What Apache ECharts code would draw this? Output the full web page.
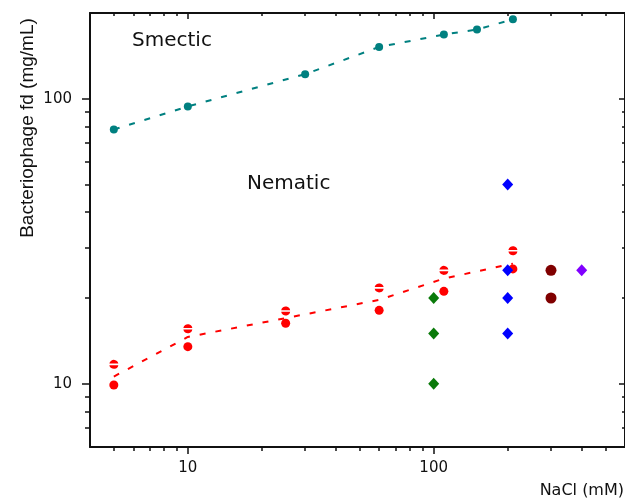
<!DOCTYPE html>
<html>
<head>
<meta charset="utf-8">
<script src="https://cdn.jsdelivr.net/npm/echarts@6/dist/echarts.min.js"></script>
<style>
  html, body { margin: 0; padding: 0; background: #fff; }
  #chart { width: 625px; height: 499px; }
</style>
</head>
<body>
<div id="chart"></div>
<script>
// NaCl concentration (mM) and fd virus concentrations (mg/mL)
var smecticNaCl = [5, 10, 30, 60, 110, 150, 210];
var smecticFd = [78, 94, 122, 152, 168, 175, 190];

var nematicNaCl = [5, 10, 25, 60, 110, 210];
var nematicUpperFd = [11.7, 15.6, 18.0, 21.7, 25.0, 29.3];
var nematicLowerFd = [9.9, 13.5, 16.3, 18.1, 21.1, 25.3];
var nematicTrendFd = [10.6, 14.6, 17.0, 19.7, 23.4, 26.4];

var greenNaCl = [100, 100, 100];
var greenFd = [20, 15, 10];
var blueNaCl = [200, 200, 200, 200];
var blueFd = [50, 25, 20, 15];
var maroonNaCl = [300, 300];
var maroonFd = [25, 20];
var purpleNaCl = [400];
var purpleFd = [25];

// axis ticks
var xMajorTicks = [10, 100];
var xMinorTicks = [5, 6, 7, 8, 9, 20, 30, 40, 50, 60, 70, 80, 90, 200, 300, 400, 500];
var yMajorTicks = [10, 100];
var yMinorTicks = [7, 8, 9, 20, 30, 40, 50, 60, 70, 80, 90];

var X_MIN = 4, X_MAX = 600, Y_MIN = 6, Y_MAX = 200;

function pairs(xs, ys) {
  return xs.map(function (x, i) { return [x, ys[i]]; });
}

var splitCircle = 'path://M0.06,3.3 A4,4 0 0 1 7.94,3.3 Z M0.06,4.7 A4,4 0 0 0 7.94,4.7 Z';
var AXIS_COLOR = '#111';
var labelFont = { fontFamily: 'DejaVu Sans', fontSize: 15, color: '#111' };

function xAx(opts) {
  var base = {
    type: 'log', logBase: 10, min: X_MIN, max: X_MAX, gridIndex: 0,
    splitLine: { show: false },
    axisLine: { show: false, lineStyle: { color: AXIS_COLOR, width: 2 } },
    axisLabel: { show: false },
    axisTick: { show: true, lineStyle: { color: AXIS_COLOR, width: 1.5 } }
  };
  return echarts.util.merge(base, opts, true);
}
function yAx(opts) {
  var base = {
    type: 'log', logBase: 10, min: Y_MIN, max: Y_MAX, gridIndex: 0,
    splitLine: { show: false },
    axisLine: { show: false, lineStyle: { color: AXIS_COLOR, width: 2 } },
    axisLabel: { show: false },
    axisTick: { show: true, lineStyle: { color: AXIS_COLOR, width: 1.5 } }
  };
  return echarts.util.merge(base, opts, true);
}

function scatter(name, xs, ys, symbol, size, color) {
  return {
    name: name, type: 'scatter', data: pairs(xs, ys),
    symbol: symbol, symbolSize: size, z: 4,
    itemStyle: { color: color, opacity: 1 }
  };
}

var chart = echarts.init(document.getElementById('chart'), null, { renderer: 'canvas' });

chart.setOption({
  animation: false,
  backgroundColor: '#fff',
  grid: { left: 90, top: 13, right: -1, bottom: 52, containLabel: false },
  xAxis: [
    xAx({ position: 'bottom', axisLine: { show: true },
          axisTick: { length: 7, inside: false, customValues: xMajorTicks },
          axisLabel: Object.assign({ show: true, margin: 14, customValues: xMajorTicks }, labelFont) }),
    xAx({ position: 'bottom', axisTick: { length: 4, inside: false, customValues: xMinorTicks } }),
    xAx({ position: 'top', axisLine: { show: true },
          axisTick: { length: 6, inside: true, customValues: xMajorTicks } }),
    xAx({ position: 'top', axisTick: { length: 3, inside: true, customValues: xMinorTicks } })
  ],
  yAxis: [
    yAx({ position: 'left', axisLine: { show: true },
          axisTick: { length: 8, inside: false, customValues: yMajorTicks },
          axisLabel: Object.assign({ show: true, margin: 18, customValues: yMajorTicks }, labelFont) }),
    yAx({ position: 'left', axisTick: { length: 5, inside: false, customValues: yMinorTicks } }),
    yAx({ position: 'right', axisLine: { show: true },
          axisTick: { length: 6, inside: true, customValues: yMajorTicks } }),
    yAx({ position: 'right', axisTick: { length: 3, inside: true, customValues: yMinorTicks } })
  ],
  series: [
    {
      name: 'Smectic boundary', type: 'line', data: pairs(smecticNaCl, smecticFd),
      symbol: 'circle', symbolSize: 8, z: 3,
      itemStyle: { color: '#008080', opacity: 1 },
      lineStyle: { color: '#008080', width: 2, type: [6, 10] }
    },
    {
      name: 'Nematic trend', type: 'line', data: pairs(nematicNaCl, nematicTrendFd),
      symbol: 'none', z: 2,
      lineStyle: { color: '#ff0000', width: 2, type: [6, 10] }
    },
    scatter('Nematic upper', nematicNaCl, nematicUpperFd, splitCircle, 9, '#ff0000'),
    scatter('Nematic lower', nematicNaCl, nematicLowerFd, 'circle', 9, '#ff0000'),
    scatter('100 mM', greenNaCl, greenFd, 'diamond', [11, 12], '#0a7a0a'),
    scatter('200 mM', blueNaCl, blueFd, 'diamond', [11, 12], '#0000ff'),
    scatter('300 mM', maroonNaCl, maroonFd, 'circle', 11, '#800000'),
    scatter('400 mM', purpleNaCl, purpleFd, 'diamond', [11, 12], '#8000ff')
  ],
  graphic: [
    { type: 'text', left: 132, top: 31,
      style: { text: 'Smectic', font: '20px "DejaVu Sans"', fill: '#111' } },
    { type: 'text', left: 247, top: 174,
      style: { text: 'Nematic', font: '20px "DejaVu Sans"', fill: '#111' } },
    { type: 'text', x: 28, y: 128, rotation: Math.PI / 2,
      style: { text: 'Bacteriophage fd (mg/mL)', font: '19px "Liberation Sans"', fill: '#111',
               align: 'center', verticalAlign: 'middle' } },
    { type: 'text', x: 624, y: 491,
      style: { text: 'NaCl (mM)', font: '16px "DejaVu Sans"', fill: '#111',
               align: 'right', verticalAlign: 'middle' } }
  ]
});
</script>
</body>
</html>
